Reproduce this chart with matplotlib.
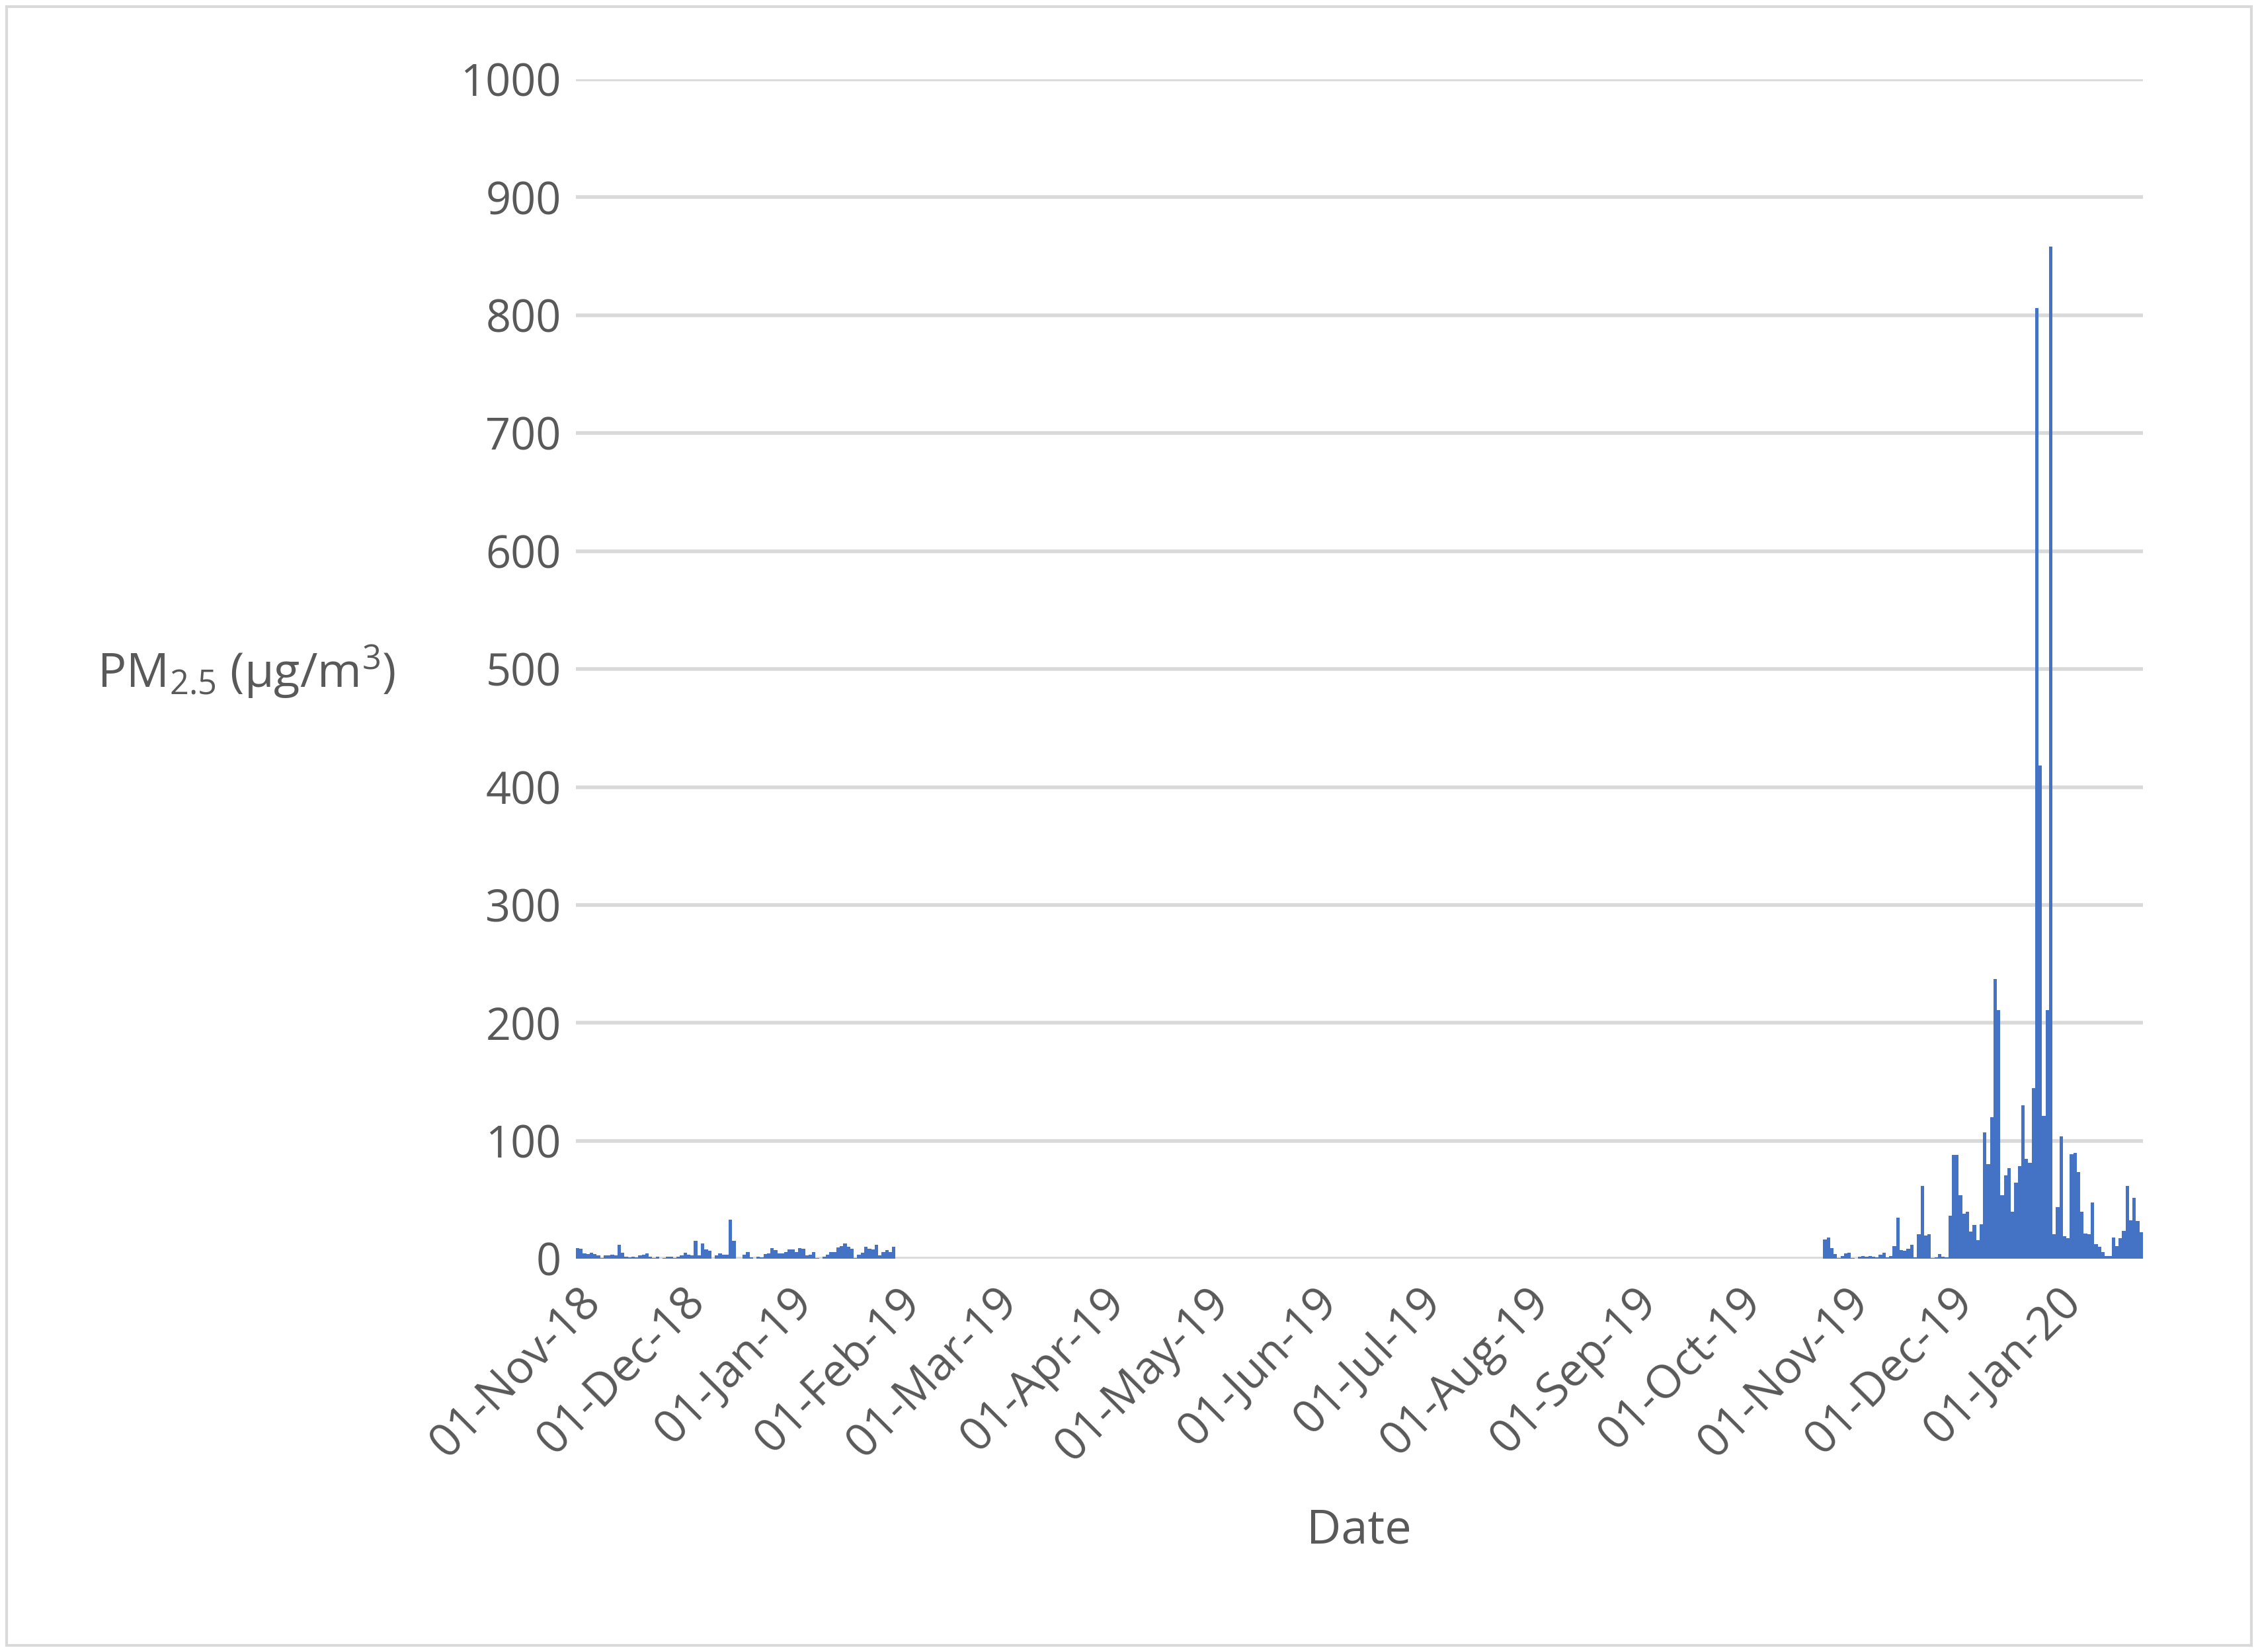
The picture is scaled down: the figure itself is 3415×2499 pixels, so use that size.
import numpy as np
import pandas as pd
import matplotlib
matplotlib.use("Agg")
import matplotlib.pyplot as plt
import matplotlib.dates as mdates

# daily PM2.5 readings, winter 2018/19
start_1 = "2018-11-01"
pm_1 = [9, 8.4, 4.5, 4, 5, 4, 3, 0.5, 3, 3, 3.4, 3, 12, 5, 2, 1, 2, 1, 3, 3.4,
        4.5, 2, 0.5, 2, 0, 0.5, 2, 1.7, 0.5, 1.7, 3, 5, 3.4, 3, 15, 3, 13, 8, 7, 0,
        3, 4.5, 3.4, 3.4, 33, 15, 0, 0, 3.4, 6, 1, 0, 1.7, 1, 4, 4.5, 9, 7.3, 4.5, 4.5,
        5.6, 8, 8, 6, 9, 8.4, 3, 3.4, 6, 0.5, 0, 2, 3.4, 5.6, 6, 9.5, 11, 13, 10, 8.4,
        0.5, 3.4, 5, 10, 8.4, 8, 12, 3, 6, 7.3, 5.6, 10]

# daily PM2.5 readings, winter 2019/20
start_2 = "2019-10-26"
pm_2 = [16.3, 18, 9, 4, 0.5, 2.2, 4.5, 5, 0.5, 0, 1.7, 2.2, 1.7, 2.2, 1.7, 1.3, 3.4, 5, 1.1, 2.2,
        11, 35, 7.3, 6.7, 8.4, 12, 1.1, 21, 62, 20, 21, 0.5, 1.1, 4, 1.7, 1.1, 36.5, 88, 88, 54,
        38, 40, 23, 28.7, 15.7, 29, 107, 80, 120, 237, 211, 54, 71, 77, 40, 64.6, 78.7, 130, 85, 81.5,
        145, 806, 418, 121, 211, 858, 21, 44, 104, 19, 17.4, 88.8, 90, 73.6, 40, 21.3, 20.8, 47.8, 12.4, 10,
        5.6, 2.2, 2.2, 18, 10.7, 17.4, 23.6, 62, 32.6, 51.7, 32, 22.5]

dates_1 = pd.date_range(start_1, periods=len(pm_1), freq="D")
dates_2 = pd.date_range(start_2, periods=len(pm_2), freq="D")

plt.rcParams['font.family'] = ['Open Sans', 'DejaVu Sans']
plt.rcParams['mathtext.default'] = 'regular'
txt = "#595959"

fig = plt.figure(figsize=(34.15, 24.99), dpi=100)
ax = fig.add_axes([0.255, 0.238, 0.694, 0.714])
ax.bar(dates_1, pm_1, width=1.0, color="#4472C4", linewidth=0)
ax.bar(dates_2, pm_2, width=1.0, color="#4472C4", linewidth=0)

ax.set_ylim(0, 1000)
ax.set_yticks(np.arange(0, 1001, 100))
ax.set_xlim(pd.Timestamp(start_1) - pd.Timedelta(hours=12),
            dates_2[-1] + pd.Timedelta(hours=12))
ax.xaxis.set_major_locator(mdates.MonthLocator(bymonthday=1))
ax.xaxis.set_major_formatter(mdates.DateFormatter("%d-%b-%y"))

ax.grid(axis="y", color="#D9D9D9", linewidth=4)
ax.set_axisbelow(True)
for s in ax.spines.values():
    s.set_visible(False)
ax.tick_params(length=0, labelsize=48, colors=txt, pad=16)
ax.tick_params(axis="x", labelsize=50, pad=22)
plt.setp(ax.get_xticklabels(), rotation=45, ha="right", rotation_mode="anchor")

fig.text(0.109, 0.593, "PM$_{2.5}$ (µg/m$^3$)", fontsize=52, color=txt,
         ha="center", va="center")
ax.set_xlabel("Date", fontsize=52, color=txt, labelpad=40)

fig.patches.append(plt.Rectangle((0.003, 0.004), 0.994, 0.992, transform=fig.transFigure,
                                 fill=False, edgecolor="#D9D9D9", linewidth=3))
fig.savefig("out.png", dpi=100, facecolor="white")
